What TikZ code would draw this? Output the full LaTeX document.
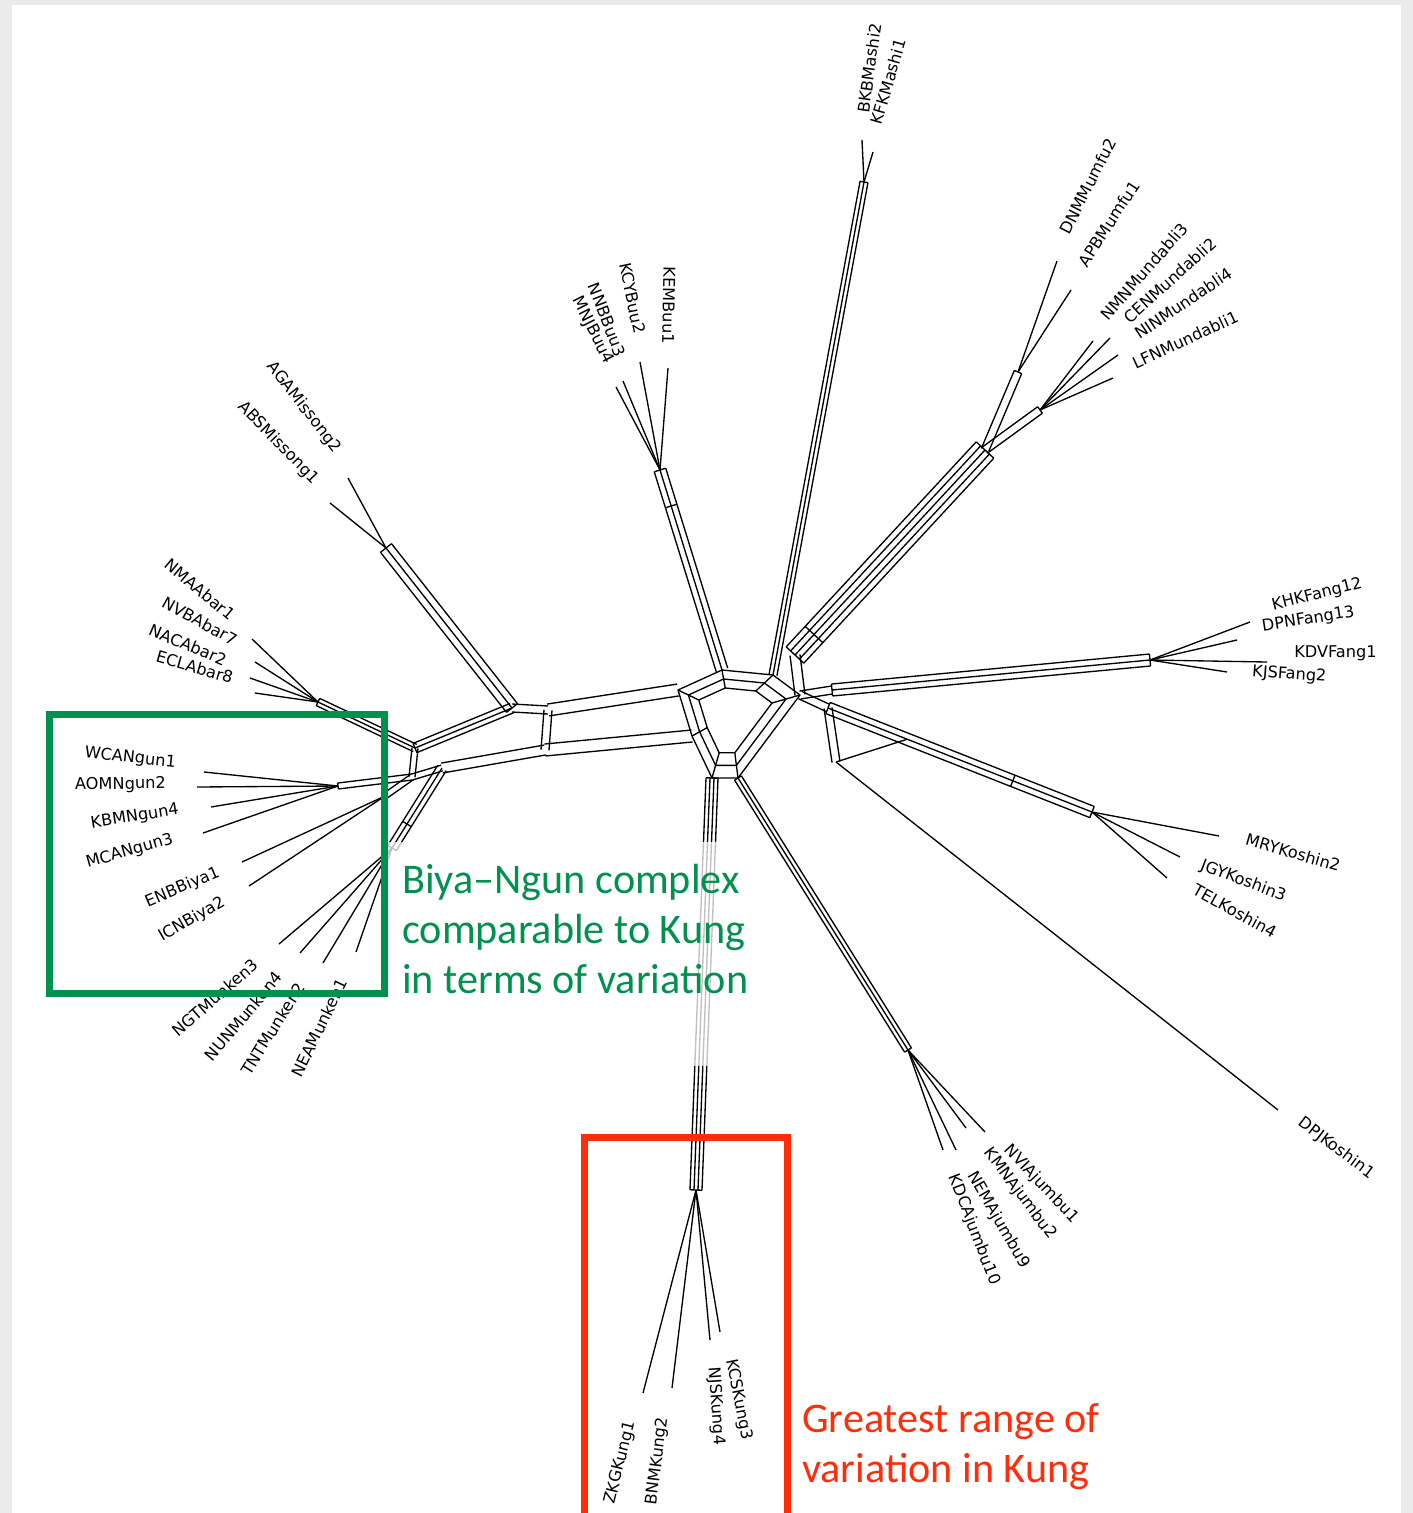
\documentclass[tikz,border=0pt]{standalone}
\usepackage{fontspec}
\setmainfont{DejaVu Sans}
\newfontfamily\notefont{Carlito}
\usetikzlibrary{calc}
\definecolor{FrameGray}{HTML}{EBEBEB}
\definecolor{NgunGreen}{HTML}{00914F}
\definecolor{KungRed}{HTML}{FF2D0A}

\tikzset{
  net/.style={line width=0.95pt, line join=round},
  taxon/.style={font=\fontsize{11.5}{13}\selectfont, inner sep=0pt},
  note/.style={font=\notefont\fontsize{30}{36}\selectfont, inner sep=0pt, anchor=base west},
}

% parallel split lines between two points (offsets in px)
\newcommand{\band}[3]{%
  \foreach \off in {#3}{\draw[net] ($(#1)!\off*0.025cm!90:(#2)$) -- ($(#2)!\off*0.025cm!-90:(#1)$);}}
% cross line closing a band
\newcommand{\rung}[4]{%
  \coordinate (rp) at ($(#1)!#3!(#2)$);
  \draw[net] ($(rp)!#4*0.025cm!90:(#2)$) -- ($(rp)!-#4*0.025cm!90:(#2)$);}

\begin{document}
\begin{tikzpicture}[x=0.025cm, y=-0.025cm]
\fill[FrameGray] (0,0) rectangle (1413,1513);
\fill[white] (12,5) rectangle (1401,1513);
\useasboundingbox (0,0) rectangle (1413,1513);

% leaf tips
\coordinate (tBKB) at (862,140);
\coordinate (tKFK) at (873,152);
\coordinate (tKEM) at (668,368);
\coordinate (tKCY) at (640,362);
\coordinate (tNNB) at (623,381);
\coordinate (tMNJ) at (616,387);
\coordinate (tAGA) at (348,478);
\coordinate (tABS) at (330,503);
\coordinate (tNMA) at (252,639);
\coordinate (tNVB) at (255,662);
\coordinate (tNAC) at (250,678);
\coordinate (tECL) at (255,693);
\coordinate (tWCA) at (204,772);
\coordinate (tAOM) at (197,787);
\coordinate (tKBM) at (211,807);
\coordinate (tMCA) at (203,833);
\coordinate (tENB) at (242,862);
\coordinate (tICN) at (249,886);
\coordinate (tNGT) at (279,944);
\coordinate (tNUN) at (300,953);
\coordinate (tTNT) at (323,963);
\coordinate (tNEA) at (356,952);
\coordinate (tZKG) at (643,1393);
\coordinate (tBNM) at (672,1388);
\coordinate (tKCS) at (710,1340);
\coordinate (tNJS) at (720,1332);
\coordinate (tNVI) at (985,1132);
\coordinate (tKMN) at (966,1128);
\coordinate (tNEM) at (956,1150);
\coordinate (tKDC) at (943,1150);
\coordinate (tMRY) at (1219,836);
\coordinate (tJGY) at (1180,857);
\coordinate (tTEL) at (1167,878);
\coordinate (tDPJ) at (1278,1110);
\coordinate (tKHK) at (1250,622);
\coordinate (tDPN) at (1237,640);
\coordinate (tKDV) at (1267,662);
\coordinate (tKJS) at (1227,672);
\coordinate (tDNM) at (1057,261);
\coordinate (tAPB) at (1071,290);
\coordinate (tNMN) at (1093,341);
\coordinate (tCEN) at (1110,338);
\coordinate (tNIN) at (1118,355);
\coordinate (tLFN) at (1113,378);

% group hubs
\coordinate (MaH) at (864,182);
\coordinate (BuH) at (660,470);
\coordinate (MiH) at (386,548);
\coordinate (AbH) at (318,702);
\coordinate (NgH) at (338,786);
\coordinate (BiH) at (385,796);
\coordinate (MuH) at (392,848);
\coordinate (KuH) at (696,1190);
\coordinate (JuH) at (908,1050);
\coordinate (KoH) at (1092,812);
\coordinate (FaH) at (1150,660);
\coordinate (MfH) at (1018,372);
\coordinate (MdH) at (1040,410);
\coordinate (MMH) at (985,450);

% core points
\coordinate (LA) at (415,748);
\coordinate (LN) at (412,777);
\coordinate (LB) at (442,768);
\coordinate (MJ) at (512,708);
\coordinate (LC1) at (548,710);
\coordinate (LC2) at (545,750);
\coordinate (CU) at (678,690);
\coordinate (CL) at (692,736);
\coordinate (CC) at (730,715);
\coordinate (CB) at (722,670);
\coordinate (CM) at (773,675);
\coordinate (CK) at (712,778);
\coordinate (CJ) at (738,778);
\coordinate (RC) at (800,695);
\coordinate (MMb) at (795,655);
\coordinate (FaB) at (832,690);
\coordinate (KoB) at (828,708);
\coordinate (DPJb) at (836,762);

% core of the network
\foreach \fr in {1,0.8,0.6}
  \draw[net] ($(CC)!\fr!(CU)$) -- ($(CC)!\fr!(CB)$) -- ($(CC)!\fr!(CM)$) -- ($(CC)!\fr!(RC)$)
    -- ($(CC)!\fr!(CJ)$) -- ($(CC)!\fr!(CK)$) -- ($(CC)!\fr!(CL)$) -- cycle;
\foreach \pt in {CU,CB,CM,RC,CJ,CK,CL} \draw[net] ($(CC)!0.6!(\pt)$) -- (\pt);

% left half
\band{AbH}{LA}{-4,0,4}
\band{NgH}{LN}{-3,3}
\band{BiH}{LN}{-3,3}
\band{MuH}{LB}{-5,0,5}
\band{LA}{MJ}{-5,0,5}
\band{LN}{LB}{-3,3}
\band{LA}{LN}{-3,3}
\band{MiH}{MJ}{-7,0,7}
\band{MJ}{LC1}{-4,4}
\band{LC1}{CU}{-6,6}
\band{LB}{LC2}{-5,5}
\band{LC2}{CL}{-6,6}
\band{LC1}{LC2}{-4,4}
\rung{AbH}{LA}{0}{4}
\rung{NgH}{LN}{0}{3}
\rung{MuH}{LB}{0}{5}
\rung{MuH}{LB}{0.3}{5}
\rung{MiH}{MJ}{0}{7}
\rung{MJ}{MiH}{0}{7}
\rung{LA}{MJ}{0}{5}

% right half
\band{CB}{BuH}{-6,0,6}
\band{CM}{MaH}{-4,0,4}
\band{RC}{MMb}{-5,5}
\band{MMb}{MMH}{-12,-6,0,6,12}
\band{MMH}{MfH}{-4,4}
\band{MMH}{MdH}{-4,4}
\band{RC}{FaB}{-4,4}
\band{FaB}{FaH}{-6,0,6}
\band{RC}{KoB}{-4,4}
\band{KoB}{KoH}{-6,0,6}
\band{KoB}{DPJb}{-4,4}
\band{CK}{KuH}{-6,-2,2,6}
\band{CJ}{JuH}{-4,0,4}
\rung{BuH}{CB}{0}{6}
\rung{BuH}{CB}{0.18}{6}
\rung{MaH}{CM}{0}{4}
\rung{MfH}{MMH}{0}{4}
\rung{MdH}{MMH}{0}{4}
\rung{MMH}{MMb}{0}{12}
\rung{MMb}{MMH}{0}{12}
\rung{MMb}{MMH}{0.1}{12}
\rung{FaH}{FaB}{0}{6}
\rung{FaB}{FaH}{0}{6}
\rung{KoH}{KoB}{0}{6}
\rung{KoB}{KoH}{0}{6}
\rung{KoB}{KoH}{0.7}{6}
\rung{JuH}{CJ}{0}{4}
\rung{CJ}{JuH}{0}{4}
\rung{KuH}{CK}{0}{6}
\rung{CK}{KuH}{0}{6}
\draw[net] (DPJb) -- ($(KoB)!0.3!(KoH)$);

% leaf edges
\foreach \tip in {tBKB,tKFK} \draw[net] (\tip) -- (MaH);
\foreach \tip in {tKEM,tKCY,tNNB,tMNJ} \draw[net] (\tip) -- (BuH);
\foreach \tip in {tAGA,tABS} \draw[net] (\tip) -- (MiH);
\foreach \tip in {tNMA,tNVB,tNAC,tECL} \draw[net] (\tip) -- (AbH);
\foreach \tip in {tWCA,tAOM,tKBM,tMCA} \draw[net] (\tip) -- (NgH);
\foreach \tip in {tENB,tICN} \draw[net] (\tip) -- (BiH);
\foreach \tip in {tNGT,tNUN,tTNT,tNEA} \draw[net] (\tip) -- (MuH);
\foreach \tip in {tZKG,tBNM,tKCS,tNJS} \draw[net] (\tip) -- (KuH);
\foreach \tip in {tNVI,tKMN,tNEM,tKDC} \draw[net] (\tip) -- (JuH);
\foreach \tip in {tMRY,tJGY,tTEL} \draw[net] (\tip) -- (KoH);
\draw[net] (DPJb) -- (tDPJ);
\foreach \tip in {tKHK,tDPN,tKDV,tKJS} \draw[net] (\tip) -- (FaH);
\foreach \tip in {tDNM,tAPB} \draw[net] (\tip) -- (MfH);
\foreach \tip in {tNMN,tCEN,tNIN,tLFN} \draw[net] (\tip) -- (MdH);

% taxon labels
\node[taxon, anchor=west, rotate=82] (lBKB) at (863,113) {BKBMashi2};
\node[taxon, anchor=west, rotate=74] (lKFK) at (876,124) {KFKMashi1};
\node[taxon, anchor=west, rotate=63] (lDNM) at (1064,233) {DNMMumfu2};
\node[taxon, anchor=west, rotate=57] (lAPB) at (1082,265) {APBMumfu1};
\node[taxon, anchor=west, rotate=49] (lNMN) at (1104,318) {NMNMundabli3};
\node[taxon, anchor=west, rotate=42] (lCEN) at (1126,320) {CENMundabli2};
\node[taxon, anchor=west, rotate=34] (lNIN) at (1136,335) {NINMundabli4};
\node[taxon, anchor=west, rotate=25] (lLFN) at (1133,364) {LFNMundabli1};
\node[taxon, anchor=west, rotate=14] (lKHK) at (1272,606) {KHKFang12};
\node[taxon, anchor=west, rotate=9] (lDPN) at (1262,627) {DPNFang13};
\node[taxon, anchor=west, rotate=0] (lKDV) at (1294,653) {KDVFang1};
\node[taxon, anchor=west, rotate=-4] (lKJS) at (1252,672) {KJSFang2};
\node[taxon, anchor=west, rotate=-16] (lMRY) at (1246,839) {MRYKoshin2};
\node[taxon, anchor=west, rotate=-21] (lJGY) at (1201,865) {JGYKoshin3};
\node[taxon, anchor=west, rotate=-29] (lTEL) at (1194,888) {TELKoshin4};
\node[taxon, anchor=west, rotate=-37] (lDPJ) at (1300,1121) {DPJKoshin1};
\node[taxon, anchor=west, rotate=-47] (lNVI) at (1007,1147) {NVIAjumbu1};
\node[taxon, anchor=west, rotate=-53] (lKMN) at (987,1150) {KMNAjumbu2};
\node[taxon, anchor=west, rotate=-60] (lNEM) at (971,1173) {NEMAjumbu9};
\node[taxon, anchor=west, rotate=-69] (lKDC) at (953,1175) {KDCAjumbu10};
\node[taxon, anchor=west, rotate=-79] (lKCS) at (731,1359) {KCSKung3};
\node[taxon, anchor=west, rotate=-86] (lNJS) at (713,1367) {NJSKung4};
\node[taxon, anchor=east, rotate=76] (lZKG) at (631,1421) {ZKGKung1};
\node[taxon, anchor=east, rotate=83] (lBNM) at (663,1417) {BNMKung2};
\node[taxon, anchor=east, rotate=64] (lNEA) at (343,979) {NEAMunken1};
\node[taxon, anchor=east, rotate=58] (lTNT) at (301,984) {TNTMunken2};
\node[taxon, anchor=east, rotate=50] (lNUN) at (279,974) {NUNMunken4};
\node[taxon, anchor=east, rotate=41] (lNGT) at (256,962) {NGTMunken3};
\node[taxon, anchor=east, rotate=30] (lICN) at (224,901) {ICNBiya2};
\node[taxon, anchor=east, rotate=23] (lENB) at (219,872) {ENBBiya1};
\node[taxon, anchor=east, rotate=16] (lMCA) at (173,839) {MCANgun3};
\node[taxon, anchor=east, rotate=9] (lKBM) at (179,810) {KBMNgun4};
\node[taxon, anchor=east, rotate=1] (lAOM) at (166,784) {AOMNgun2};
\node[taxon, anchor=east, rotate=-6] (lWCA) at (176,763) {WCANgun1};
\node[taxon, anchor=east, rotate=-16] (lECL) at (233,678) {ECLAbar8};
\node[taxon, anchor=east, rotate=-23] (lNAC) at (226,661) {NACAbar2};
\node[taxon, anchor=east, rotate=-29] (lNVB) at (236,641) {NVBAbar7};
\node[taxon, anchor=east, rotate=-40] (lNMA) at (233,617) {NMAAbar1};
\node[taxon, anchor=east, rotate=-46] (lABS) at (316,482) {ABSMissong1};
\node[taxon, anchor=east, rotate=-52] (lAGA) at (338,451) {AGAMissong2};
\node[taxon, anchor=east, rotate=-63] (lMNJ) at (609,363) {MNJBuu4};
\node[taxon, anchor=east, rotate=-69] (lNNB) at (621,356) {NNBBuu3};
\node[taxon, anchor=east, rotate=-78] (lKCY) at (640,334) {KCYBuu2};
\node[taxon, anchor=east, rotate=-91] (lKEM) at (668,344) {KEMBuu1};

% veil behind the note
\fill[white, opacity=0.75] (388,842) rectangle (770,1066);

% highlight boxes and notes
\draw[NgunGreen, line width=5pt] (49.5,714.5) rectangle (384.5,993.5);
\draw[KungRed, line width=5pt] (584.5,1137.5) rectangle (787.5,1540);
\node[note, text=NgunGreen] (ngun1) at (402,893) {Biya–Ngun complex};
\node[note, text=NgunGreen] (ngun2) at (402,943) {comparable to Kung};
\node[note, text=NgunGreen] (ngun3) at (402,993) {in terms of variation};
\node[note, text=KungRed] (kung1) at (802,1432) {Greatest range of};
\node[note, text=KungRed] (kung2) at (802,1482) {variation in Kung};
\end{tikzpicture}
\end{document}
